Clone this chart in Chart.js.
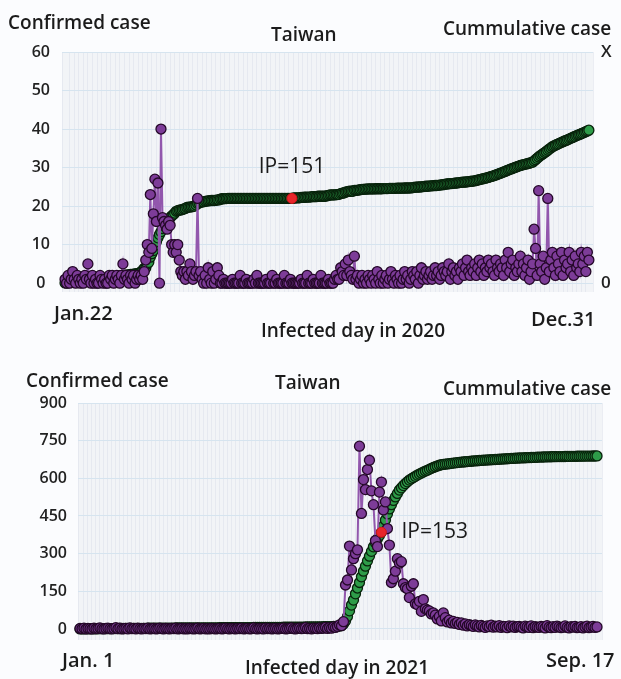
<!DOCTYPE html>
<html>
<head>
<meta charset="utf-8">
<script src="https://cdn.jsdelivr.net/npm/chart.js@4.4.1/dist/chart.umd.min.js"></script>
<style>
  html, body { margin: 0; padding: 0; background: #fbfcfe; }
  #wrap { position: relative; width: 621px; height: 679px; overflow: hidden;
          font-family: "Open Sans", "Noto Sans", sans-serif; color: #1b1b1b; }
  .box { position: absolute; left: 0; }
  .t { position: absolute; white-space: nowrap; font-size: 19px; line-height: 20px; font-weight: 600; }
  .big { font-size: 20px; }
</style>
</head>
<body>
<div id="wrap">
  <div class="box" style="top:0"><canvas id="chart2020" width="621" height="345"></canvas></div>
  <div class="box" style="top:345px"><canvas id="chart2021" width="621" height="334"></canvas></div>

  <div class="t" style="left:8px;top:12px">Confirmed case</div>
  <div class="t" style="left:271px;top:24px">Taiwan</div>
  <div class="t" style="left:443px;top:18px">Cummulative case</div>
  <div class="t big" style="left:54px;top:303px">Jan.22</div>
  <div class="t" style="left:261px;top:320px">Infected day in 2020</div>
  <div class="t big" style="left:531px;top:309px">Dec.31</div>

  <div class="t" style="left:26px;top:370px">Confirmed case</div>
  <div class="t" style="left:275px;top:372px">Taiwan</div>
  <div class="t" style="left:443px;top:378px">Cummulative case</div>
  <div class="t big" style="left:62px;top:650px">Jan. 1</div>
  <div class="t" style="left:245px;top:657px">Infected day in 2021</div>
  <div class="t big" style="left:546px;top:650px">Sep. 17</div>
</div>

<script>
// ---- 2020: Jan.22 .. Dec.31, one value per day ----
const daily2020 = [
  1,0,2,0,1,3,1,0,2,1,  0,1,0,2,1,5,1,0,2,0,  1,0,0,2,1,0,1,0,0,2,
  1,2,0,1,2,1,0,2,5,1,  2,1,0,2,1,2,0,1,2,1,
  2,1,3,6,10,8,23,9,18,27,  16,26,0,40,17,16,15,14,16,15,
  10,8,10,8,10,6,3,2,3,1,  3,2,5,3,1,2,3,22,2,3,
  1,0,2,0,4,1,0,3,0,1,  4,2,0,0,1,0,0,0,0,0,  1,0,0,0,0,2,0,0,0,1,
  0,0,0,0,1,0,2,0,0,0,  0,0,1,0,0,0,2,0,0,1,  0,0,0,0,2,0,0,0,1,0,
  0,0,0,0,0,1,0,0,0,2,  0,0,0,1,0,0,0,0,2,0,  0,0,0,1,0,0,0,1,2,1,
  1,4,3,2,5,2,6,3,2,1,  7,1,2,0,1,2,0,1,0,2,  1,0,2,1,0,3,1,0,2,0,
  1,2,0,1,3,1,0,2,1,0,  2,0,1,3,1,2,0,1,3,2,  1,3,0,2,4,1,2,3,1,2,
  3,1,2,4,2,3,1,2,4,3,  2,3,5,1,3,4,2,3,1,4,  3,5,2,4,6,3,2,4,3,5,
  2,4,6,3,5,2,4,3,6,4,  5,3,2,6,4,3,5,4,2,6,  4,8,3,5,6,2,4,3,5,7,
  3,5,2,4,6,1,3,5,14,9,  2,24,5,3,7,1,4,22,3,6,  8,4,2,7,5,3,8,2,6,4,
  5,8,3,6,2,7,4,5,3,8,  5,7,3,8,6
];
const cum2020 = [
  1,1,3,3,5,8,8,8,10,11,  11,11,13,13,16,18,18,18,18,18,
  18,18,20,22,23,24,24,24,26,26,  28,30,31,32,34,35,39,40,41,41,
  42,42,44,45,45,47,48,49,50,53,  59,67,77,78,100,108,135,153,169,195,
  215,235,252,267,283,298,306,322,329,339,  348,355,363,373,376,379,380,382,385,388,
  393,395,395,396,398,400,406,414,416,420,  422,422,425,426,427,428,429,429,429,430,
  432,432,436,438,438,439,439,440,440,440,  440,440,440,440,440,440,440,440,440,440,
  440,440,440,440,440,440,440,440,440,440,  440,440,440,440,440,440,440,440,440,440,
  440,440,440,440,440,440,440,440,440,440,
  442,442,443,443,443,445,445,446,446,447,  447,447,449,449,449,449,451,451,451,451,
  451,451,454,455,458,458,458,458,460,460,  461,465,467,468,472,474,476,477,477,477,
  482,482,482,484,485,487,487,488,488,489,
  489,489,489,489,490,490,490,490,490,491,  491,491,491,492,492,492,492,492,493,493,
  493,493,493,494,494,494,494,495,495,497,  498,498,499,499,500,501,502,503,503,504,
  505,505,506,507,507,508,509,510,511,512,  514,515,516,517,517,518,519,520,521,522,
  523,524,524,525,526,527,528,529,530,531,  533,535,537,539,541,543,545,547,549,552,
  554,556,559,562,565,568,571,574,577,580,  584,587,590,593,596,599,602,605,608,611,
  613,615,617,619,621,623,626,628,634,641,  648,655,661,667,672,678,684,690,696,702,
  708,712,716,720,723,727,731,734,738,741,  744,748,752,755,759,762,766,769,772,776,
  779,783,786,790,794
];
const ipDay2020 = 149;
const ipText2020 = "IP=151";
const yTicks2020 = [0, 10, 20, 30, 40, 50, 60];
const cumTicks2020 = [0, 1200];

// ---- 2021: Jan. 1 .. Sep. 17 ----
const daily2021 = [
  2,1,3,0,2,1,0,3,1,2,  4,1,0,2,3,1,0,2,5,1,  3,0,1,2,0,4,1,2,0,3,
  1,0,2,1,3,0,1,2,0,1,  3,1,0,2,1,0,2,1,3,0,  1,2,0,1,0,2,1,0,1,3,
  0,1,2,0,1,0,2,1,0,1,  2,0,1,3,1,0,2,1,0,2,  1,3,0,1,2,0,1,4,1,0,
  2,1,0,3,1,2,0,1,2,0,  1,2,3,0,1,2,4,1,0,2,  3,1,2,5,1,2,0,3,2,1,
  4,2,3,6,2,5,3,8,6,10,
  16,13,29,175,195,330,235,280,300,315,
  728,460,595,555,635,672,550,495,352,328,
  545,585,474,506,400,334,185,200,230,280,
  262,268,180,165,160,125,170,180,100,97,
  110,70,117,80,75,72,60,64,55,40,
  50,32,64,45,28,35,24,30,22,26,
  18,24,15,20,12,17,14,10,16,12,  8,14,10,6,12,9,15,7,11,8,
  13,6,10,9,5,12,8,11,6,9,  10,7,4,11,8,6,12,5,9,7,
  6,10,8,4,13,7,5,9,6,11,  8,5,7,12,6,4,9,7,10,5,
  6,9,4,8,11,5,7,10,6,8
];
const cum2021 = [
  2,3,6,6,8,9,9,12,13,15,  19,20,20,22,25,26,26,28,33,34,
  37,37,38,40,40,44,45,47,47,50,  51,51,53,54,57,57,58,60,60,61,
  64,65,65,67,68,68,70,71,74,74,  75,77,77,78,78,80,81,81,82,85,
  85,86,88,88,89,89,91,92,92,93,  95,95,96,99,100,100,102,103,103,105,
  106,109,109,110,112,112,113,117,118,118,  120,121,121,124,125,127,127,128,130,130,
  131,133,136,136,137,139,143,144,144,146,  149,150,152,157,158,160,160,163,165,166,
  170,172,175,181,183,188,191,199,205,215,
  231,260,400,640,1000,1440,1900,2300,2800,3260,
  3700,4150,4600,5000,5420,5800,6180,6540,6860,7160,
  7440,7700,8200,8680,9160,9560,9900,10240,10520,10800,
  11060,11240,11420,11580,11720,11860,11960,12060,12160,12260,
  12340,12420,12500,12580,12640,12720,12800,12860,12920,12980,
  13040,13080,13110,13130,13150,13170,13190,13210,13230,13250,
  13270,13290,13300,13320,13330,13350,13360,13380,13390,13400,
  13420,13430,13440,13450,13460,13470,13480,13490,13500,13510,
  13520,13530,13540,13550,13560,13575,13585,13595,13600,13610,
  13620,13625,13630,13640,13645,13650,13660,13665,13670,13680,
  13690,13695,13700,13705,13710,13715,13720,13722,13725,13728,
  13730,13733,13736,13740,13743,13746,13750,13752,13755,13758,
  13760,13763,13766,13768,13770,13772,13775,13777,13779,13780
];
const ipDay2021 = 151;
const ipText2021 = "IP=153";
const yTicks2021 = [0, 150, 300, 450, 600, 750, 900];

Chart.defaults.font.family = '"Open Sans", "Noto Sans", sans-serif';
Chart.defaults.color = "#1b1b1b";

const plotBg = {
  id: "plotBg",
  beforeDraw(chart) {
    const { ctx, chartArea: a } = chart;
    ctx.save();
    ctx.fillStyle = "#f2f4f7";
    ctx.fillRect(a.left, a.top, a.right - a.left, a.bottom - a.top);
    ctx.restore();
  }
};

// label next to the inflection point (dataset 0)
const ipLabel = {
  id: "ipLabel",
  afterDatasetsDraw(chart, args, opts) {
    const pt = chart.getDatasetMeta(0).data[0];
    if (!pt) return;
    const ctx = chart.ctx;
    ctx.save();
    ctx.font = '21px "Open Sans", "Noto Sans", sans-serif';
    ctx.fillStyle = "#1b1b1b";
    ctx.textAlign = opts.align;
    ctx.textBaseline = "middle";
    ctx.fillText(opts.text, pt.x + opts.dx, pt.y + opts.dy);
    ctx.restore();
  }
};

const toXY = arr => arr.map((v, i) => ({ x: i, y: v }));

function makeDatasets(daily, cum, ipDay) {
  return [
    {
      label: "IP",
      data: [{ x: ipDay, y: cum[ipDay] }],
      yAxisID: "yCum",
      order: 0,
      showLine: false,
      pointRadius: 5,
      pointBackgroundColor: "#e8262b",
      pointBorderColor: "#d4161b",
      pointBorderWidth: 1,
      clip: false
    },
    {
      label: "Confirmed case",
      data: toXY(daily),
      yAxisID: "y",
      order: 1,
      borderColor: "#9257ad",
      borderWidth: 2,
      tension: 0,
      pointRadius: 5,
      pointBackgroundColor: "#7d3c98",
      pointBorderColor: "#240828",
      pointBorderWidth: 1.3,
      clip: false
    },
    {
      label: "Cummulative case",
      data: toXY(cum),
      yAxisID: "yCum",
      order: 2,
      borderColor: "#0e3815",
      borderWidth: 1,
      tension: 0,
      pointRadius: 5,
      pointBackgroundColor: "#2e9c49",
      pointBorderColor: "#08220b",
      pointBorderWidth: 1.3,
      clip: false
    }
  ];
}

function xScale(min, max, step) {
  return {
    type: "linear", min, max,
    afterFit: s => { s.height = 0; },
    ticks: { display: false, stepSize: step },
    grid: { color: "rgba(214,220,230,0.45)", drawTicks: false },
    border: { display: false }
  };
}

function yScale(ticks, min, width, align, padding) {
  return {
    type: "linear", position: "left", min, max: ticks[ticks.length - 1],
    afterBuildTicks: s => { s.ticks = ticks.map(v => ({ value: v })); },
    afterFit: s => { s.width = width; },
    ticks: { font: { size: 16, weight: "600" }, color: "#222", crossAlign: align, padding },
    grid: { color: "#d6e4ef", drawTicks: false },
    border: { display: false }
  };
}

// ---- 2020 chart ----
new Chart(document.getElementById("chart2020"), {
  type: "line",
  data: { datasets: makeDatasets(daily2020, cum2020, ipDay2020) },
  options: {
    responsive: false,
    animation: false,
    events: [],
    layout: { padding: { top: 52, bottom: 53, left: 0, right: 0 } },
    scales: {
      x: xScale(-2, 346.7, 3),
      y: yScale(yTicks2020, -2.3, 62, "center", 12),
      yCum: {
        type: "linear", position: "right", min: -46, max: 1200,
        afterBuildTicks: s => { s.ticks = cumTicks2020.map(v => ({ value: v })); },
        afterFit: s => { s.width = 28; },
        ticks: { font: { size: 17, weight: "600" }, color: "#222", padding: 8,
                 callback: v => (v === 0 ? "0" : "X") },
        grid: { drawOnChartArea: false, drawTicks: false },
        border: { display: false }
      }
    },
    plugins: {
      legend: { display: false },
      tooltip: { enabled: false },
      ipLabel: { text: ipText2020, dx: 0, dy: -31, align: "center" }
    }
  },
  plugins: [plotBg, ipLabel]
});

// ---- 2021 chart ----
new Chart(document.getElementById("chart2021"), {
  type: "line",
  data: { datasets: makeDatasets(daily2021, cum2021, ipDay2021) },
  options: {
    responsive: false,
    animation: false,
    events: [],
    layout: { padding: { top: 58, bottom: 39, left: 0, right: 19 } },
    scales: {
      x: xScale(-1, 261.5, 2),
      y: yScale(yTicks2021, -44, 78, "near", 11),
      yCum: { type: "linear", display: false, min: -880, max: 18000 }
    },
    plugins: {
      legend: { display: false },
      tooltip: { enabled: false },
      ipLabel: { text: ipText2021, dx: 20, dy: 0, align: "left" }
    }
  },
  plugins: [plotBg, ipLabel]
});
</script>
</body>
</html>
